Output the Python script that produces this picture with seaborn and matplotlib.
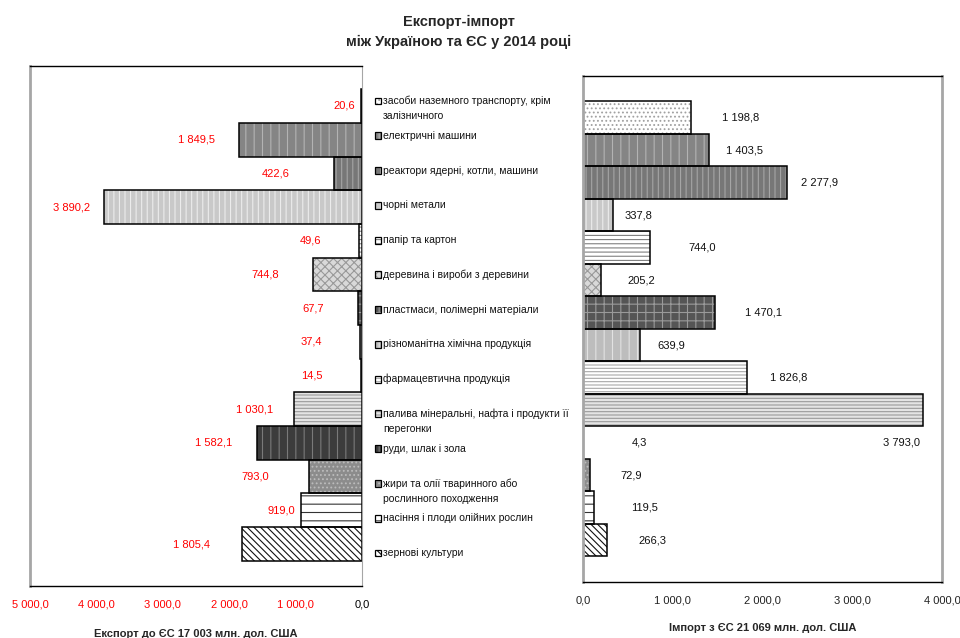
import matplotlib
matplotlib.use("Agg")
import matplotlib.pyplot as plt
from matplotlib.patches import Rectangle
from matplotlib.ticker import FuncFormatter
import seaborn as sns
import pandas as pd

# ---------------- data ----------------
categories = [
    "засоби наземного транспорту, крім\nзалізничного",
    "електричні машини",
    "реактори ядерні, котли, машини",
    "чорні метали",
    "папір та картон",
    "деревина і вироби з деревини",
    "пластмаси, полімерні матеріали",
    "різноманітна хімічна продукція",
    "фармацевтична продукція",
    "палива мінеральні, нафта і продукти її\nперегонки",
    "руди, шлак і зола",
    "жири та олії тваринного або\nрослинного походження",
    "насіння і плоди олійних рослин",
    "зернові культури",
]
export_vals = [20.6, 1849.5, 422.6, 3890.2, 49.6, 744.8, 67.7, 37.4, 14.5,
               1030.1, 1582.1, 793.0, 919.0, 1805.4]
import_vals = [1198.8, 1403.5, 2277.9, 337.8, 744.0, 205.2, 1470.1, 639.9,
               1826.8, 3793.0, 4.3, 72.9, 119.5, 266.3]
export_ticks = [5000, 4000, 3000, 2000, 1000, 0]
import_ticks = [0, 1000, 2000, 3000, 4000]
title_text = "Експорт-імпорт\nміж Україною та ЄС у 2014 році"
export_title = "Експорт до ЄС 17 003 млн. дол. США"
import_title = "Імпорт з ЄС 21 069 млн. дол. США"

# ---------------- styling ----------------
face_colors = ["#ffffff", "#858585", "#777777", "#c9c9c9", "#ffffff", "#d9d9d9",
               "#555555", "#bdbdbd", "#ffffff", "#e4e4e4", "#3c3c3c", "#8c8c8c",
               "#ffffff", "#ffffff"]
hatch_colors = ["#a0a0a0", "#b3b3b3", "#a5a5a5", "#ececec", "#808080", "#999999",
                "#9a9a9a", "#e2e2e2", "#a8a8a8", "#9a9a9a", "#7a7a7a", "#bcbcbc",
                "#333333", "#111111"]
hatches = ["....", "||", "|||", "|||", "----", "xxxx", "++", "||", "-----",
           "-----", "||", "....", "--", "\\\\\\\\\\"]
# label gaps (pixels) between bar end and its value label
exp_gap_px = [6, 24, 44, 14, 37, 34, 34, 37, 38, 20, 25, 40, 6, 32]
imp_gap_px = [31, 17, 14, 11, 39, 26, 30, 17, 23, 3, 48, 31, 37, 32]

sns.set_theme(style="white")
plt.rcParams["font.family"] = ["Liberation Sans", "DejaVu Sans"]
plt.rcParams["hatch.linewidth"] = 0.8

W, H = 960, 638
fig = plt.figure(figsize=(W / 100, H / 100), dpi=100)
fig.patch.set_facecolor("white")


def fig_rect(x0, y0, x1, y1):
    return [x0 / W, (H - y1) / H, (x1 - x0) / W, (y1 - y0) / H]


axL = fig.add_axes(fig_rect(30, 66, 362, 586))
axM = fig.add_axes(fig_rect(372, 66, 580, 586))
axR = fig.add_axes(fig_rect(583, 76, 942, 582))

keys = [f"c{i}" for i in range(len(categories))]
df = pd.DataFrame({"key": keys, "export": export_vals, "import": import_vals})
pal = dict(zip(keys, face_colors))


def fmt(v, pos=None):
    return f"{v:,.1f}".replace(",", " ").replace(".", ",")


def style_bars(ax):
    bars = sorted(ax.patches, key=lambda p: p.get_y())
    for i, p in enumerate(bars):
        p.set_hatch(hatches[i])
        p.set_edgecolor(hatch_colors[i])
        p.set_linewidth(0)
        ax.add_patch(Rectangle(p.get_xy(), p.get_width(), p.get_height(),
                               fill=False, edgecolor="black", linewidth=1.1,
                               zorder=p.get_zorder() + 0.1))
    return bars


# ---------------- left: export ----------------
sns.barplot(data=df, x="export", y="key", hue="key", palette=pal, legend=False,
            orient="h", width=1.0, saturation=1, ax=axL)
style_bars(axL)
axL.set_xlim(5000, 0)
axL.set_ylim(14.246, -1.187)
axL.set_xticks(export_ticks)
axL.xaxis.set_major_formatter(FuncFormatter(fmt))
axL.set_yticks([])
axL.set_ylabel("")
axL.set_xlabel(export_title, fontsize=8, fontweight="bold", labelpad=14)
axL.tick_params(axis="x", direction="in", length=4, width=1, color="#a0a0a0",
                labelsize=8, pad=10)
for t, v in zip(axL.get_xticklabels(), export_ticks):
    t.set_color("black" if v == 0 else "red")
for side in ["top", "bottom"]:
    axL.spines[side].set_color("black")
    axL.spines[side].set_linewidth(1)
axL.spines["left"].set_color("#a6a6a6")
axL.spines["left"].set_linewidth(2)
axL.spines["right"].set_color("#a6a6a6")
axL.spines["right"].set_linewidth(0.8)
for i, v in enumerate(export_vals):
    axL.annotate(fmt(v), xy=(v, i), xytext=(-exp_gap_px[i] * 0.72, 0),
                 textcoords="offset points", ha="right", va="center",
                 fontsize=8, color="red")

# ---------------- right: import ----------------
sns.barplot(data=df, x="import", y="key", hue="key", palette=pal, legend=False,
            orient="h", width=1.0, saturation=1, ax=axR)
style_bars(axR)
axR.set_xlim(0, 4000)
axR.set_ylim(14.29, -1.277)
axR.set_xticks(import_ticks)
axR.xaxis.set_major_formatter(FuncFormatter(fmt))
axR.set_yticks([])
axR.set_ylabel("")
axR.set_xlabel(import_title, fontsize=8, fontweight="bold", labelpad=12)
axR.tick_params(axis="x", direction="in", length=4, width=1, color="#a0a0a0",
                labelsize=8, pad=10, labelcolor="#222222")
for side in ["top", "bottom"]:
    axR.spines[side].set_color("black")
    axR.spines[side].set_linewidth(1)
for side in ["left", "right"]:
    axR.spines[side].set_color("#a6a6a6")
    axR.spines[side].set_linewidth(2)
xmaxR = axR.get_xlim()[1]
for i, v in enumerate(import_vals):
    if v > 0.9 * xmaxR:
        # long bar: label sits under the bar end, one row lower
        axR.annotate(fmt(v), xy=(v, i + 1), xytext=(-imp_gap_px[i] * 0.72, 0),
                     textcoords="offset points", ha="right", va="center",
                     fontsize=8, color="#111111")
    else:
        axR.annotate(fmt(v), xy=(v, i), xytext=(imp_gap_px[i] * 0.72, 0),
                     textcoords="offset points", ha="left", va="center",
                     fontsize=8, color="#111111")

# ---------------- middle: category names with key squares ----------------
axM.set_xlim(0, 1)
axM.set_ylim(13.949, -1.0066)
axM.axis("off")
line_step = 15.5 / 34.77
tr = axM.get_yaxis_transform()
for i, name in enumerate(categories):
    lines = name.split("\n")
    for k, ln in enumerate(lines):
        axM.text(0.053, i + k * line_step, ln, transform=tr, ha="left",
                 va="center", fontsize=7.5, color="#111111")
    axM.add_patch(Rectangle((0.0144, i - 0.1), 0.029, 0.2, transform=tr,
                            facecolor=face_colors[i], edgecolor=hatch_colors[i],
                            linewidth=0, hatch=hatches[i]))
    axM.add_patch(Rectangle((0.0144, i - 0.1), 0.029, 0.2, transform=tr,
                            fill=False, edgecolor="black", linewidth=0.9))

# ---------------- title ----------------
fig.text(459 / W, 1 - 32 / H, title_text, ha="center", va="center",
         fontsize=10.5, fontweight="bold", linespacing=1.55)

fig.savefig("out.png", dpi=100, facecolor="white")
